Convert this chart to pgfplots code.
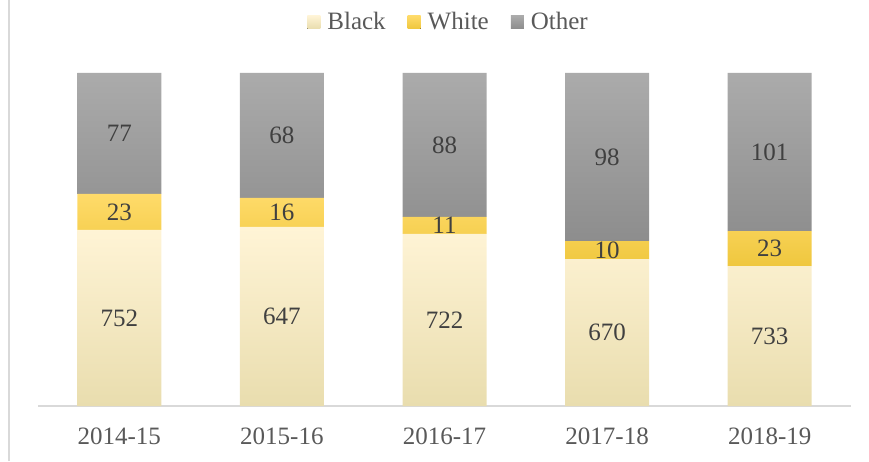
\documentclass[border=0pt]{standalone}
\usepackage{pgfplots}
\pgfplotsset{compat=1.18}
\usepackage{pgfplotstable}
\usepackage{fontspec}
\setmainfont{Liberation Serif}
\definecolor{txt}{HTML}{404040}
\definecolor{tick}{HTML}{595959}
\definecolor{bTop}{HTML}{FFF4D6}
\definecolor{bBot}{HTML}{E9DDAE}
\definecolor{wTop}{HTML}{FFDB6A}
\definecolor{wBot}{HTML}{EFC73E}
\definecolor{oTop}{HTML}{ABABAB}
\definecolor{oBot}{HTML}{8D8D8D}
\definecolor{axl}{HTML}{D9D9D9}

% bar heights as drawn (share of bar, in %), labels as printed
\pgfplotstableread{
x B W O Bl Wl Ol
0 52.9 10.8 36.3 752 23 77
1 53.8 8.7 37.5 647 16 68
2 51.7 5.1 43.2 722 11 88
3 44.1 5.4 50.5 670 10 98
4 42.0 10.5 47.5 733 23 101
}\data

\begin{document}
\begin{tikzpicture}
\useasboundingbox (0,0) rectangle (869pt,461pt);
\draw[axl, line width=1.5pt] (9pt,0) -- (9pt,461pt);
\begin{axis}[
  at={(38pt,55pt)}, anchor=south west,
  scale only axis, width=813pt, height=333pt,
  ybar stacked, bar width=84pt,
  xmin=-0.5, xmax=4.5, ymin=0, ymax=100,
  clip=false,
  axis lines*=left,
  y axis line style={draw=none},
  x axis line style={draw=axl, line width=1.5pt},
  ytick=\empty,
  xtick=data,
  xticklabels={2014-15,2015-16,2016-17,2017-18,2018-19},
  xtick style={draw=none},
  x tick label style={font=\fontsize{25}{30}\selectfont, text=tick, yshift=-18pt},
  point meta=explicit symbolic,
  nodes near coords={\pgfplotspointmeta},
  every node near coord/.append style={font=\fontsize{25}{30}\selectfont, text=txt, anchor=center},
  legend style={at={(axis description cs:0.505,1.153)}, anchor=center, draw=none, fill=none,
    font=\fontsize{25}{30}\selectfont, text=tick, legend columns=-1,
    /tikz/every odd column/.append style={column sep=5pt},
    /tikz/every even column/.append style={column sep=20pt}},
  legend image code/.code={\fill[#1] (0pt,-6.5pt) rectangle (13pt,6.5pt);},
]
\addplot[draw=none, top color=bTop, bottom color=bBot]
  table[x=x, y=B, meta=Bl] {\data};
\addplot[draw=none, top color=wTop, bottom color=wBot]
  table[x=x, y=W, meta=Wl] {\data};
\addplot[draw=none, top color=oTop, bottom color=oBot]
  table[x=x, y=O, meta=Ol] {\data};
\legend{Black, White, Other}
\end{axis}
\end{tikzpicture}
\end{document}
